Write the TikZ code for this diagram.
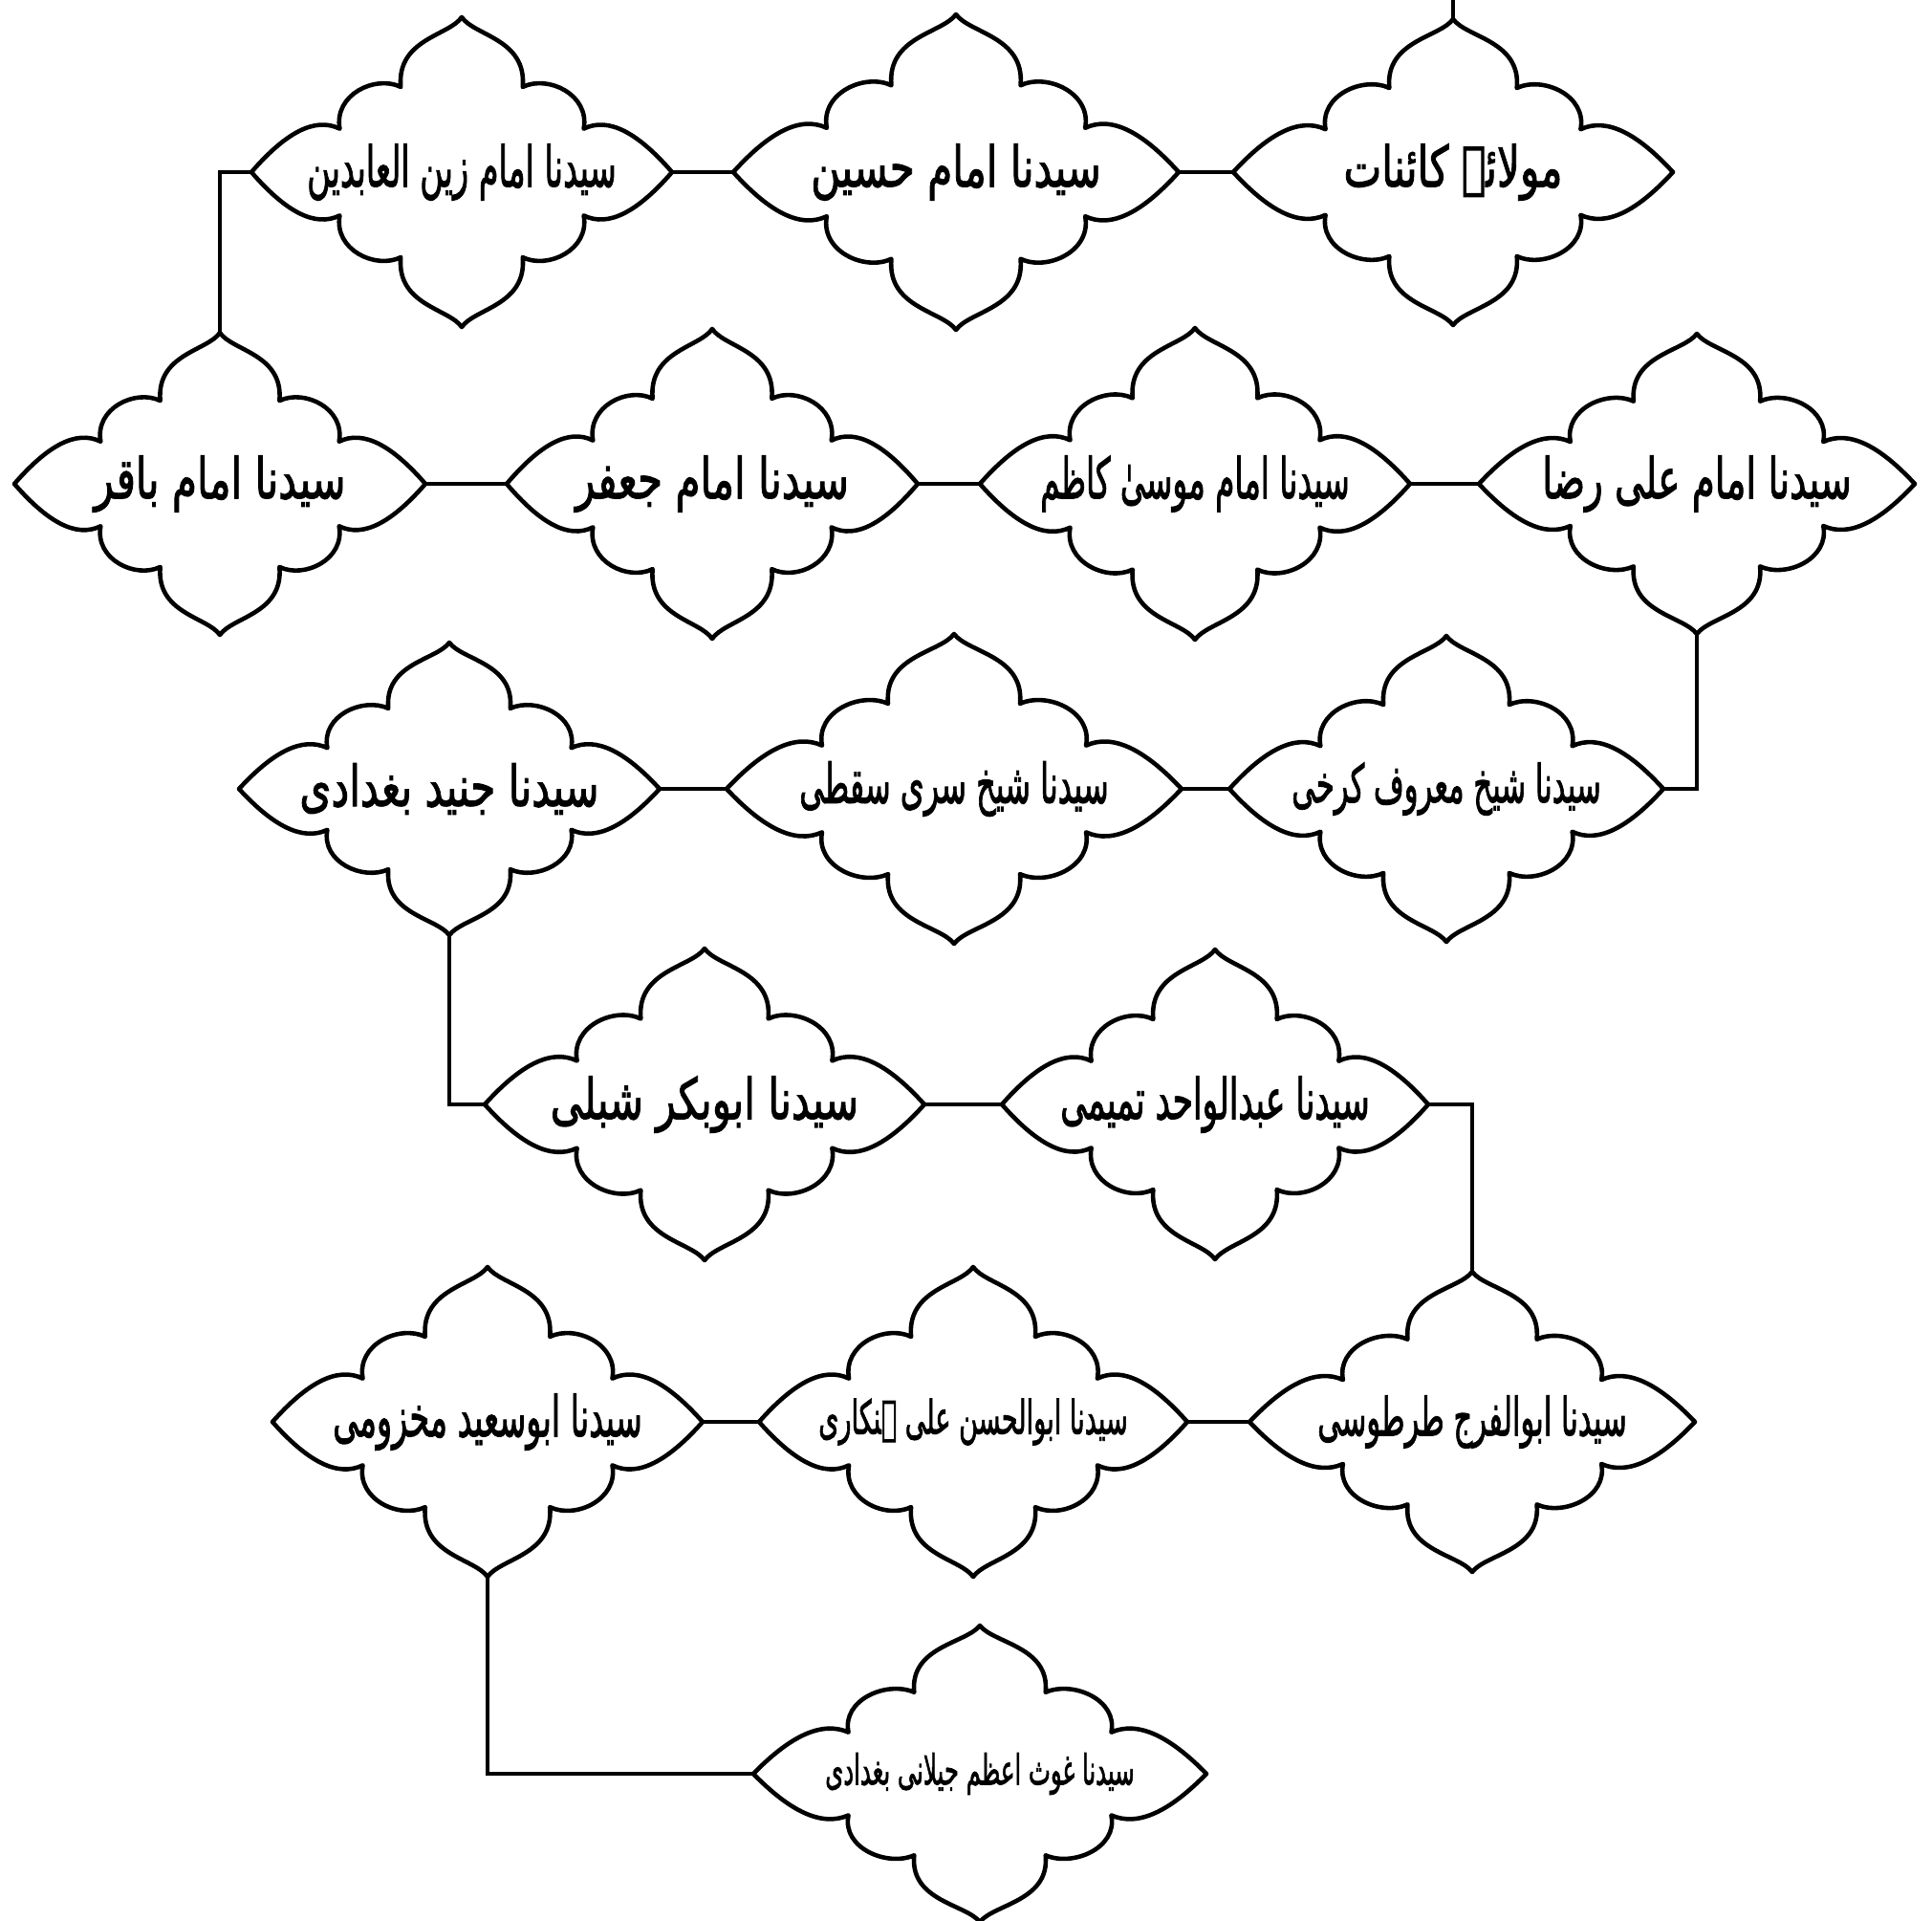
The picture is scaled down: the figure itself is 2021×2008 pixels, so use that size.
\documentclass[tikz,border=0pt]{standalone}
\usepackage{graphicx}
\usepackage{fontspec}
\newfontfamily\urdufont[Script=Arabic, FakeBold=2]{DejaVu Sans}
\TeXXeTstate=1
\newsavebox\urdubox
\newcommand\urdulabel[1]{%
  \sbox\urdubox{\urdufont\fontsize{12}{14}\selectfont #1}%
  \pgfmathsetmacro\urduhs{min(1,92/(\wd\urdubox))}%
  \pgfmathsetmacro\urduvs{min(1.4,1.8*\urduhs)}%
  \scalebox{\urduhs}[\urduvs]{\usebox\urdubox}}
\tikzset{
  lobeshape/.style={draw=black, line width=1.3pt, line join=round, fill=white},
  connector/.style={draw=black, line width=1.3pt},
  urdutext/.style={inner sep=0pt, text=black},
  pics/lobed/.style n args={3}{code={
    \draw[lobeshape, xscale=#1, yscale=#2]
      (0,-1) .. controls (0.06,-0.88) and (0.31,-0.86) .. (0.29,-0.55)
      .. controls (0.41,-0.63) and (0.61,-0.50) .. (0.58,-0.28)
      .. controls (0.70,-0.36) and (0.84,-0.25) .. (1,0)
      .. controls (0.84,0.25) and (0.70,0.36) .. (0.58,0.28)
      .. controls (0.61,0.50) and (0.41,0.63) .. (0.29,0.55)
      .. controls (0.31,0.86) and (0.06,0.88) .. (0,1)
      .. controls (-0.06,0.88) and (-0.31,0.86) .. (-0.29,0.55)
      .. controls (-0.41,0.63) and (-0.61,0.50) .. (-0.58,0.28)
      .. controls (-0.70,0.36) and (-0.84,0.25) .. (-1,0)
      .. controls (-0.84,-0.25) and (-0.70,-0.36) .. (-0.58,-0.28)
      .. controls (-0.61,-0.50) and (-0.41,-0.63) .. (-0.29,-0.55)
      .. controls (-0.31,-0.86) and (-0.06,-0.88) .. (0,-1) -- cycle;
    \coordinate (-l) at (-#1,0);
    \coordinate (-r) at (#1,0);
    \coordinate (-t) at (0,-#2);
    \coordinate (-b) at (0,#2);
    \node[urdutext] (-c) at (0,0) {\urdulabel{#3}};
  }}
}
\begin{document}
\begin{tikzpicture}[x=0.01cm, y=-0.01cm]
\fill[white] (0,0) rectangle (2021,2008);
\useasboundingbox (0,0) rectangle (2021,2008);
% row 1
\pic (n1) at (1520,180) {lobed={230}{160}{\beginR مولائے کائنات\endR}};
\pic (n2) at (1000,180) {lobed={233}{165}{\beginR سیدنا امام حسین\endR}};
\pic (n3) at (483,180) {lobed={220}{162}{\beginR سیدنا امام زین العابدین\endR}};
% row 2
\pic (n4) at (230,506) {lobed={215}{158}{\beginR سیدنا امام باقر\endR}};
\pic (n5) at (745,506) {lobed={215}{162}{\beginR سیدنا امام جعفر\endR}};
\pic (n6) at (1250,506) {lobed={225}{163}{\beginR سیدنا امام موسیٰ کاظم\endR}};
\pic (n7) at (1775,506) {lobed={228}{157}{\beginR سیدنا امام علی رضا\endR}};
% row 3
\pic (n8) at (1513,825) {lobed={227}{160}{\beginR سیدنا شیخ معروف کرخی\endR}};
\pic (n9) at (998,825) {lobed={238}{162}{\beginR سیدنا شیخ سری سقطی\endR}};
\pic (n10) at (470,825) {lobed={220}{153}{\beginR سیدنا جنید بغدادی\endR}};
% row 4
\pic (n11) at (737,1155) {lobed={230}{163}{\beginR سیدنا ابوبکر شبلی\endR}};
\pic (n12) at (1271,1155) {lobed={223}{162}{\beginR سیدنا عبدالواحد تمیمی\endR}};
% row 5
\pic (n13) at (1540,1487) {lobed={233}{157}{\beginR سیدنا ابوالفرج طرطوسی\endR}};
\pic (n14) at (1018,1487) {lobed={224}{162}{\beginR سیدنا ابوالحسن علی ہنکاری\endR}};
\pic (n15) at (510,1487) {lobed={225}{162}{\beginR سیدنا ابوسعید مخزومی\endR}};
% row 6
\pic (n16) at (1025,1855) {lobed={237}{155}{\beginR سیدنا غوث اعظم جیلانی بغدادی\endR}};
% connectors
\coordinate (topend) at (1520,0);
\draw[connector] (n1-t) -- (topend);
\draw[connector] (n1-l) -- (n2-r);
\draw[connector] (n2-l) -- (n3-r);
\draw[connector] (n3-l) -| (n4-t);
\draw[connector] (n4-r) -- (n5-l);
\draw[connector] (n5-r) -- (n6-l);
\draw[connector] (n6-r) -- (n7-l);
\draw[connector] (n7-b) |- (n8-r);
\draw[connector] (n8-l) -- (n9-r);
\draw[connector] (n9-l) -- (n10-r);
\draw[connector] (n10-b) |- (n11-l);
\draw[connector] (n11-r) -- (n12-l);
\draw[connector] (n12-r) -| (n13-t);
\draw[connector] (n13-l) -- (n14-r);
\draw[connector] (n14-l) -- (n15-r);
\draw[connector] (n15-b) |- (n16-l);
\end{tikzpicture}
\end{document}
